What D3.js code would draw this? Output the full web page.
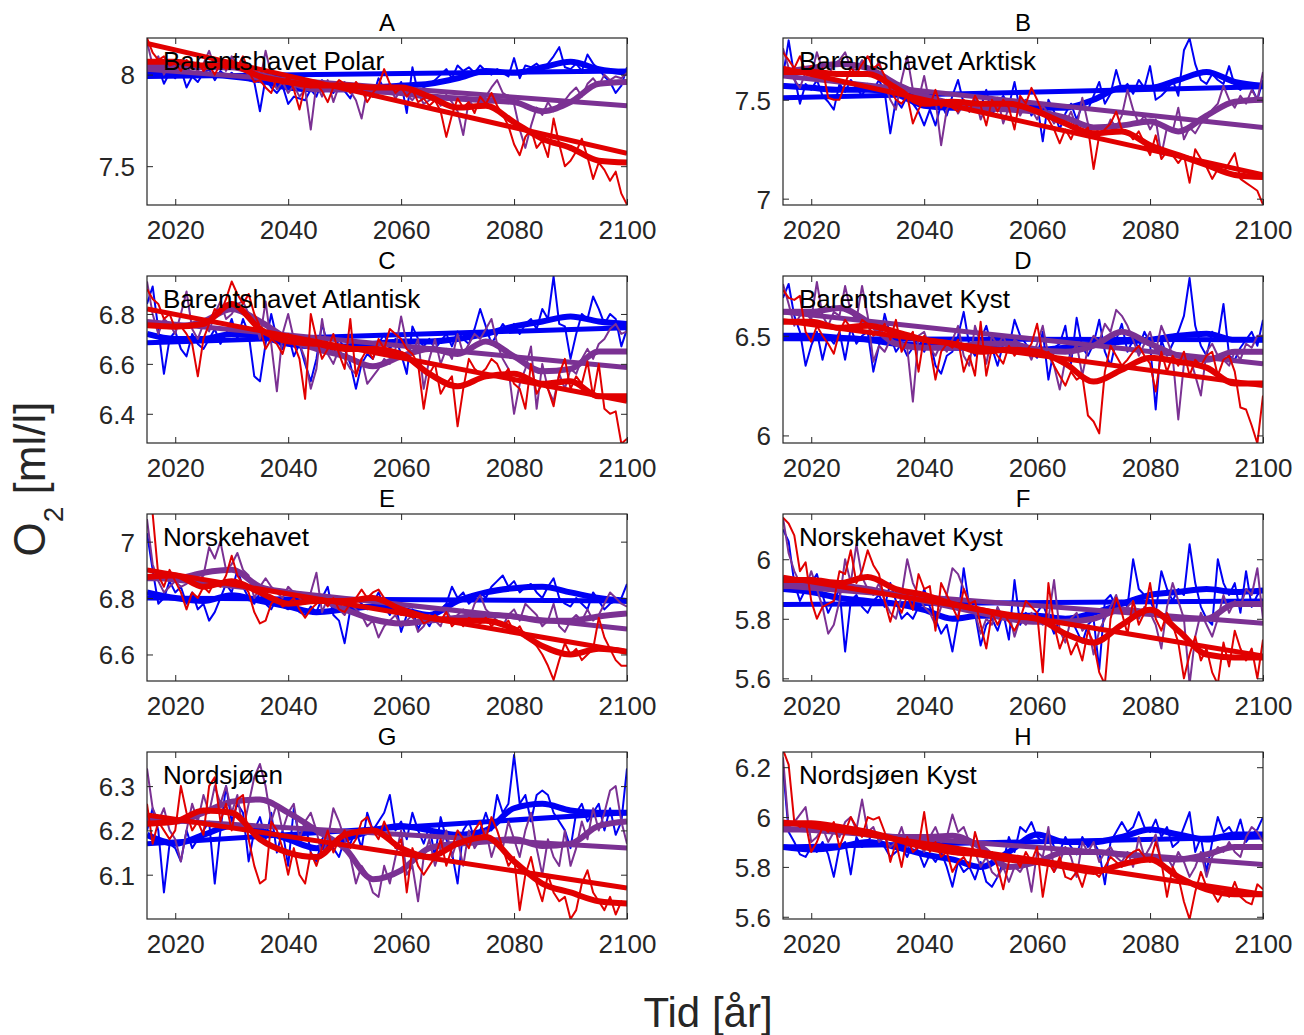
<!DOCTYPE html>
<html>
<head>
<meta charset="utf-8">
<script src="https://cdn.jsdelivr.net/npm/d3@7"></script>
<style>
  html, body { margin: 0; padding: 0; background: #fff; }
  svg { display: block; font-family: "Liberation Sans", Arial, Helvetica, sans-serif; }
</style>
</head>
<body>
<svg id="fig" width="1304" height="1035"></svg>
<script>
// ---------------------------------------------------------------------------
// Oxygen (ml/l) projections 2015-2100 for eight sea regions, three scenarios.
// Each scenario: annual values, a 5-yearly smoothed curve and a linear trend.
// ---------------------------------------------------------------------------
const firstYear = 2015;
const lastYear = 2100;
const annualYears = d3.range(firstYear, lastYear + 1);     // one value per year
const smoothYears = d3.range(firstYear, lastYear + 1, 5);  // smoothed curve knots
const xTickValues = [2020, 2040, 2060, 2080, 2100];

const panelLetters = ["A", "B", "C", "D", "E", "F", "G", "H"];
const regionNames = [
  "Barentshavet Polar", "Barentshavet Arktisk",
  "Barentshavet Atlantisk", "Barentshavet Kyst",
  "Norskehavet", "Norskehavet Kyst",
  "Nordsjøen", "Nordsjøen Kyst"
];
const yTickValues = [
  [7.5, 8], [7, 7.5],
  [6.4, 6.6, 6.8], [6, 6.5],
  [6.6, 6.8, 7], [5.6, 5.8, 6],
  [6.1, 6.2, 6.3], [5.6, 5.8, 6, 6.2]
];
const yLimits = [
  [7.288, 8.2], [6.968, 7.812],
  [6.283, 6.952], [5.962, 6.8],
  [6.506, 7.098], [5.591, 6.152],
  [6.0, 6.377], [5.591, 6.261]
];

// ---- A: Barentshavet Polar -------------------------------------------------
const polarLow = [
  8.02, 7.99, 8.04, 7.95, 8.01, 7.98, 8.03, 7.93, 7.99, 7.96,
  8.01, 8.03, 7.97, 8.02, 7.99, 8.01, 7.98, 8.00, 7.97, 7.96,
  7.80, 7.98, 7.93, 7.90, 7.94, 7.84, 7.88, 7.87, 7.86, 7.92,
  7.88, 7.97, 7.93, 7.90, 7.96, 7.91, 7.87, 7.95, 7.90, 7.94,
  7.88, 7.98, 7.92, 7.95, 7.90, 7.96, 7.79, 8.04, 7.90, 7.93,
  7.95, 7.97, 8.00, 8.03, 7.98, 8.05, 8.02, 8.04, 8.01, 8.05,
  8.02, 8.00, 8.03, 8.01, 7.99, 8.09, 7.98, 8.05, 8.04, 8.06,
  8.03, 8.06, 8.10, 8.15, 8.04, 8.03, 8.06, 8.02, 8.11, 8.06,
  8.03, 7.99, 7.96, 7.90, 7.94, 8.04
];
const polarMid = [
  8.18, 8.05, 8.10, 8.00, 8.06, 8.03, 8.08, 8.01, 8.05, 8.02,
  8.06, 8.13, 8.04, 8.08, 8.02, 8.10, 8.05, 8.07, 7.99, 8.02,
  7.96, 8.13, 8.00, 7.92, 7.96, 7.90, 7.94, 7.88, 7.92, 7.70,
  7.95, 7.88, 7.97, 7.85, 7.94, 7.96, 7.91, 7.86, 7.76, 7.92,
  7.88, 7.94, 7.90, 7.93, 7.87, 7.92, 7.89, 7.86, 7.90, 7.84,
  7.86, 7.88, 7.83, 7.89, 7.85, 7.80, 7.67, 7.86, 7.82, 7.85,
  7.88, 7.93, 7.97, 7.90, 7.88, 7.84, 7.70, 7.60, 7.72, 7.82,
  7.78, 7.85, 7.80, 7.84, 7.86, 7.90, 7.93, 7.88, 7.95, 7.98,
  7.94, 8.00, 7.97, 7.99, 7.98, 8.01
];
const polarHigh = [
  8.20, 8.12, 8.08, 8.10, 8.05, 8.06, 8.02, 8.08, 8.04, 8.07,
  8.02, 8.05, 8.00, 8.06, 8.03, 8.08, 8.04, 8.10, 8.02, 7.96,
  7.97, 7.93, 7.90, 7.98, 7.95, 7.99, 7.92, 7.81, 7.94, 7.93,
  7.95, 7.91, 7.85, 7.93, 7.97, 7.95, 7.90, 7.96, 7.92, 7.85,
  7.90, 7.94, 8.03, 7.95, 7.90, 7.93, 7.88, 7.92, 7.85, 7.87,
  7.83, 7.86, 7.80, 7.66, 7.78, 7.87, 7.82, 7.85, 7.79, 7.88,
  7.84, 7.90, 7.83, 7.78, 7.72, 7.62, 7.56, 7.66, 7.70, 7.60,
  7.64, 7.55, 7.76, 7.62, 7.50, 7.53, 7.58, 7.65, 7.55, 7.43,
  7.52, 7.48, 7.42, 7.47, 7.35, 7.29
];
const polarLowSmooth  = [8.00, 8.00, 8.00, 7.99, 7.97, 7.93, 7.92, 7.92, 7.93, 7.94, 7.95, 7.98, 8.02, 8.01, 8.04, 8.07, 8.03, 8.01];
const polarMidSmooth  = [8.05, 8.05, 8.04, 8.04, 8.00, 7.96, 7.92, 7.92, 7.91, 7.90, 7.88, 7.87, 7.86, 7.85, 7.80, 7.85, 7.95, 7.96];
const polarHighSmooth = [8.07, 8.07, 8.05, 8.05, 7.99, 7.96, 7.94, 7.94, 7.93, 7.93, 7.88, 7.82, 7.83, 7.74, 7.65, 7.60, 7.53, 7.52];
const polarTrend = [[7.99, 8.02], [8.03, 7.83], [8.17, 7.57]];

// ---- B: Barentshavet Arktisk -----------------------------------------------
const arktiskLow = [
  7.62, 7.80, 7.62, 7.48, 7.58, 7.55, 7.60, 7.52, 7.49, 7.45,
  7.58, 7.54, 7.60, 7.56, 7.52, 7.58, 7.55, 7.60, 7.54, 7.33,
  7.50, 7.46, 7.52, 7.48, 7.44, 7.37, 7.45, 7.37, 7.48, 7.42,
  7.52, 7.60, 7.48, 7.44, 7.50, 7.46, 7.55, 7.42, 7.48, 7.52,
  7.47, 7.59, 7.44, 7.50, 7.42, 7.48, 7.29, 7.50, 7.44, 7.35,
  7.43, 7.48, 7.40, 7.47, 7.45, 7.52, 7.59, 7.48, 7.53, 7.65,
  7.55, 7.58, 7.53, 7.60, 7.56, 7.67, 7.50, 7.52, 7.55, 7.60,
  7.52, 7.75, 7.81, 7.68, 7.60, 7.58, 7.63, 7.60, 7.58, 7.67,
  7.57, 7.55, 7.58, 7.56, 7.50, 7.60
];
const arktiskMid = [
  7.76, 7.66, 7.60, 7.56, 7.64, 7.62, 7.74, 7.65, 7.62, 7.68,
  7.70, 7.74, 7.66, 7.65, 7.70, 7.66, 7.62, 7.70, 7.58, 7.50,
  7.45, 7.60, 7.72, 7.55, 7.50, 7.62, 7.48, 7.50, 7.27, 7.45,
  7.50, 7.43, 7.48, 7.45, 7.52, 7.40, 7.47, 7.44, 7.51, 7.38,
  7.46, 7.50, 7.42, 7.48, 7.45, 7.40, 7.47, 7.43, 7.38, 7.42,
  7.38, 7.44, 7.36, 7.51, 7.38, 7.31, 7.36, 7.33, 7.40, 7.36,
  7.42, 7.55, 7.45, 7.38, 7.42, 7.35, 7.40, 7.22, 7.36, 7.34,
  7.46, 7.30, 7.36, 7.33, 7.38, 7.40, 7.45, 7.48, 7.57, 7.50,
  7.46, 7.52, 7.48, 7.55, 7.50, 7.64
];
const arktiskHigh = [
  7.74, 7.70, 7.66, 7.72, 7.64, 7.67, 7.62, 7.66, 7.51, 7.50,
  7.50, 7.58, 7.66, 7.63, 7.68, 7.72, 7.66, 7.68, 7.62, 7.55,
  7.50, 7.48, 7.52, 7.38, 7.45, 7.50, 7.47, 7.55, 7.46, 7.50,
  7.46, 7.44, 7.50, 7.44, 7.52, 7.47, 7.37, 7.50, 7.44, 7.50,
  7.46, 7.35, 7.52, 7.48, 7.56, 7.50, 7.43, 7.40, 7.35, 7.28,
  7.35, 7.30, 7.37, 7.33, 7.36, 7.15, 7.32, 7.35, 7.38, 7.44,
  7.35, 7.34, 7.30, 7.34, 7.28, 7.22, 7.32, 7.20, 7.24, 7.22,
  7.18, 7.22, 7.08, 7.25, 7.20, 7.16, 7.10, 7.15, 7.13, 7.18,
  7.23, 7.10, 7.08, 7.06, 7.04, 6.97
];
const arktiskLowSmooth  = [7.57, 7.56, 7.55, 7.55, 7.53, 7.47, 7.46, 7.47, 7.47, 7.46, 7.46, 7.50, 7.56, 7.56, 7.60, 7.64, 7.59, 7.57];
const arktiskMidSmooth  = [7.64, 7.66, 7.68, 7.66, 7.58, 7.52, 7.48, 7.46, 7.45, 7.44, 7.41, 7.36, 7.37, 7.39, 7.34, 7.42, 7.49, 7.50];
const arktiskHighSmooth = [7.64, 7.64, 7.63, 7.63, 7.56, 7.48, 7.49, 7.48, 7.48, 7.44, 7.38, 7.33, 7.34, 7.27, 7.22, 7.17, 7.12, 7.11];
const arktiskTrend = [[7.51, 7.565], [7.62, 7.36], [7.66, 7.12]];

// ---- C: Barentshavet Atlantisk ---------------------------------------------
const atlantiskLow = [
  6.84, 6.91, 6.74, 6.56, 6.70, 6.73, 6.66, 6.63, 6.72, 6.68,
  6.66, 6.70, 6.74, 6.68, 6.72, 6.78, 6.70, 6.78, 6.72, 6.55,
  6.53, 6.68, 6.80, 6.70, 6.66, 6.72, 6.63, 6.68, 6.60, 6.53,
  6.62, 6.76, 6.68, 6.64, 6.70, 6.66, 6.60, 6.50, 6.60, 6.64,
  6.62, 6.68, 6.72, 6.66, 6.70, 6.64, 6.56, 6.75, 6.70, 6.67,
  6.70, 6.66, 6.69, 6.72, 6.67, 6.73, 6.70, 6.68, 6.74, 6.82,
  6.75, 6.68, 6.72, 6.76, 6.73, 6.76, 6.72, 6.76, 6.78, 6.74,
  6.82, 6.78, 6.95, 6.76, 6.75, 6.62, 6.72, 6.80, 6.78, 6.87,
  6.82, 6.76, 6.80, 6.78, 6.67, 6.74
];
const atlantiskMid = [
  6.93, 6.80, 6.72, 6.78, 6.76, 6.72, 6.80, 6.89, 6.74, 6.70,
  6.76, 6.73, 6.80, 6.85, 6.78, 6.80, 6.84, 6.85, 6.80, 6.78,
  6.70, 6.85, 6.68, 6.49, 6.72, 6.80, 6.70, 6.68, 6.62, 6.50,
  6.58, 6.78, 6.64, 6.60, 6.66, 6.62, 6.58, 6.56, 6.62, 6.52,
  6.55, 6.58, 6.62, 6.60, 6.66, 6.79, 6.68, 6.64, 6.70, 6.50,
  6.62, 6.70, 6.60, 6.66, 6.62, 6.72, 6.64, 6.68, 6.72, 6.70,
  6.74, 6.78, 6.68, 6.62, 6.58, 6.40, 6.52, 6.58, 6.67, 6.42,
  6.60, 6.50, 6.45, 6.56, 6.50, 6.58, 6.56, 6.62, 6.66, 6.62,
  6.68, 6.70, 6.74, 6.76, 6.72, 6.73
];
const atlantiskHigh = [
  6.90, 6.86, 6.84, 6.78, 6.80, 6.74, 6.75, 6.72, 6.68, 6.55,
  6.70, 6.76, 6.82, 6.80, 6.86, 6.93, 6.88, 6.84, 6.88, 6.80,
  6.75, 6.66, 6.70, 6.68, 6.64, 6.72, 6.68, 6.62, 6.46, 6.80,
  6.70, 6.62, 6.66, 6.72, 6.64, 6.58, 6.78, 6.55, 6.62, 6.66,
  6.62, 6.70, 6.66, 6.74, 6.72, 6.70, 6.66, 6.64, 6.60, 6.42,
  6.56, 6.60, 6.48, 6.52, 6.55, 6.35, 6.50, 6.62, 6.58, 6.56,
  6.58, 6.62, 6.60, 6.55, 6.58, 6.52, 6.50, 6.42, 6.60, 6.48,
  6.52, 6.50, 6.43, 6.56, 6.62, 6.50, 6.55, 6.52, 6.61, 6.47,
  6.60, 6.42, 6.40, 6.41, 6.28, 6.30
];
const atlantiskLowSmooth  = [6.72, 6.70, 6.70, 6.72, 6.71, 6.68, 6.67, 6.67, 6.68, 6.69, 6.69, 6.70, 6.72, 6.75, 6.77, 6.79, 6.77, 6.76];
const atlantiskMidSmooth  = [6.76, 6.75, 6.77, 6.82, 6.77, 6.70, 6.66, 6.63, 6.59, 6.63, 6.66, 6.64, 6.69, 6.63, 6.57, 6.58, 6.65, 6.65];
const atlantiskHighSmooth = [6.755, 6.75, 6.76, 6.84, 6.74, 6.69, 6.68, 6.66, 6.66, 6.64, 6.56, 6.51, 6.55, 6.56, 6.52, 6.53, 6.47, 6.47];
const atlantiskTrend = [[6.685, 6.745], [6.77, 6.585], [6.82, 6.45]];

// ---- D: Barentshavet Kyst ---------------------------------------------------
const barentsKystLow = [
  6.69, 6.76, 6.60, 6.52, 6.35, 6.45, 6.52, 6.38, 6.50, 6.46,
  6.52, 6.38, 6.54, 6.46, 6.50, 6.52, 6.32, 6.45, 6.61, 6.50,
  6.42, 6.46, 6.40, 6.44, 6.50, 6.42, 6.48, 6.35, 6.31, 6.40,
  6.42, 6.50, 6.62, 6.45, 6.40, 6.48, 6.55, 6.44, 6.35, 6.46,
  6.44, 6.58, 6.50, 6.46, 6.42, 6.39, 6.52, 6.28, 6.44, 6.46,
  6.55, 6.36, 6.59, 6.44, 6.40, 6.46, 6.58, 6.42, 6.35, 6.48,
  6.56, 6.42, 6.48, 6.44, 6.52, 6.46, 6.13, 6.48, 6.40, 6.46,
  6.52, 6.60, 6.79, 6.55, 6.45, 6.40, 6.52, 6.48, 6.66, 6.40,
  6.38, 6.44, 6.48, 6.52, 6.45, 6.58
];
const barentsKystMid = [
  6.76, 6.66, 6.55, 6.60, 6.62, 6.58, 6.77, 6.60, 6.55, 6.62,
  6.60, 6.75, 6.62, 6.58, 6.75, 6.60, 6.37, 6.45, 6.42, 6.48,
  6.52, 6.46, 6.44, 6.17, 6.50, 6.52, 6.44, 6.40, 6.46, 6.42,
  6.48, 6.55, 6.40, 6.35, 6.55, 6.46, 6.36, 6.50, 6.45, 6.50,
  6.42, 6.48, 6.46, 6.44, 6.38, 6.46, 6.55, 6.40, 6.35, 6.23,
  6.38, 6.40, 6.46, 6.30, 6.44, 6.50, 6.47, 6.56, 6.52, 6.63,
  6.60, 6.55, 6.48, 6.40, 6.46, 6.52, 6.42, 6.55, 6.48, 6.40,
  6.08, 6.36, 6.40, 6.30, 6.20, 6.42, 6.46, 6.40, 6.38, 6.35,
  6.42, 6.38, 6.46, 6.44, 6.50, 6.50
];
const barentsKystHigh = [
  6.73, 6.69, 6.68, 6.70, 6.52, 6.47, 6.55, 6.50, 6.46, 6.41,
  6.52, 6.58, 6.54, 6.52, 6.58, 6.56, 6.50, 6.52, 6.56, 6.48,
  6.58, 6.42, 6.48, 6.52, 6.32, 6.50, 6.45, 6.28, 6.42, 6.46,
  6.44, 6.48, 6.32, 6.40, 6.30, 6.57, 6.30, 6.44, 6.40, 6.36,
  6.45, 6.40, 6.44, 6.42, 6.46, 6.56, 6.40, 6.42, 6.35, 6.30,
  6.25, 6.32, 6.28, 6.30, 6.10, 6.07, 6.01, 6.32, 6.45, 6.40,
  6.35, 6.38, 6.42, 6.45, 6.40, 6.36, 6.22, 6.42, 6.32, 6.40,
  6.35, 6.42, 6.30, 6.38, 6.35, 6.40, 6.42, 6.30, 6.38, 6.40,
  6.32, 6.14, 6.13, 6.05, 5.96, 6.20
];
const barentsKystLowSmooth  = [6.50, 6.50, 6.49, 6.48, 6.46, 6.45, 6.44, 6.44, 6.43, 6.43, 6.44, 6.46, 6.47, 6.48, 6.50, 6.51, 6.48, 6.48];
const barentsKystMidSmooth  = [6.62, 6.62, 6.64, 6.57, 6.46, 6.44, 6.44, 6.46, 6.46, 6.43, 6.42, 6.45, 6.52, 6.46, 6.40, 6.38, 6.42, 6.42];
const barentsKystHighSmooth = [6.57, 6.57, 6.54, 6.55, 6.52, 6.48, 6.46, 6.42, 6.43, 6.42, 6.36, 6.27, 6.33, 6.39, 6.37, 6.34, 6.26, 6.26];
const barentsKystTrend = [[6.485, 6.48], [6.62, 6.36], [6.575, 6.25]];

// ---- E: Norskehavet ---------------------------------------------------------
const norskeLow = [
  7.03, 6.90, 6.78, 6.80, 6.86, 6.82, 6.84, 6.78, 6.82, 6.76,
  6.78, 6.72, 6.75, 6.80, 6.85, 6.82, 6.90, 6.84, 6.80, 6.78,
  6.82, 6.78, 6.76, 6.80, 6.77, 6.76, 6.78, 6.75, 6.74, 6.77,
  6.75, 6.80, 6.84, 6.74, 6.72, 6.64, 6.76, 6.80, 6.78, 6.76,
  6.78, 6.82, 6.77, 6.74, 6.78, 6.68, 6.74, 6.76, 6.69, 6.73,
  6.70, 6.74, 6.76, 6.78, 6.84, 6.80, 6.82, 6.78, 6.80, 6.82,
  6.80, 6.84, 6.86, 6.88, 6.84, 6.86, 6.82, 6.84, 6.85, 6.82,
  6.80, 6.84, 6.87, 6.80, 6.78, 6.77, 6.80, 6.78, 6.76, 6.82,
  6.79, 6.76, 6.78, 6.79, 6.80, 6.85
];
const norskeMid = [
  7.08, 6.92, 6.86, 6.82, 6.84, 6.86, 6.84, 6.85, 6.88, 6.86,
  6.88, 6.98, 6.94, 7.00, 6.90, 6.92, 6.96, 6.90, 6.88, 6.80,
  6.84, 6.87, 6.84, 6.82, 6.80, 6.84, 6.82, 6.80, 6.78, 6.82,
  6.89, 6.75, 6.80, 6.78, 6.76, 6.74, 6.78, 6.76, 6.74, 6.70,
  6.72, 6.66, 6.70, 6.72, 6.74, 6.70, 6.72, 6.74, 6.68, 6.70,
  6.74, 6.72, 6.70, 6.76, 6.72, 6.74, 6.76, 6.72, 6.78, 6.81,
  6.76, 6.74, 6.72, 6.70, 6.74, 6.76, 6.72, 6.78, 6.76, 6.74,
  6.70, 6.72, 6.78, 6.70, 6.68, 6.72, 6.74, 6.72, 6.76, 6.72,
  6.74, 6.78, 6.82, 6.80, 6.78, 6.77
];
const norskeHigh = [
  7.12, 7.10, 6.88, 6.84, 6.90, 6.86, 6.82, 6.76, 6.82, 6.80,
  6.84, 6.82, 6.86, 6.84, 6.88, 6.95, 6.88, 6.85, 6.82, 6.75,
  6.71, 6.72, 6.78, 6.80, 6.77, 6.78, 6.80, 6.76, 6.73, 6.76,
  6.78, 6.80, 6.77, 6.80, 6.76, 6.75, 6.78, 6.80, 6.83, 6.80,
  6.82, 6.83, 6.80, 6.78, 6.76, 6.74, 6.76, 6.73, 6.74, 6.71,
  6.72, 6.74, 6.72, 6.75, 6.70, 6.72, 6.70, 6.73, 6.72, 6.71,
  6.73, 6.70, 6.72, 6.70, 6.72, 6.68, 6.70, 6.66, 6.65, 6.63,
  6.60, 6.56, 6.51, 6.58, 6.64, 6.60, 6.62, 6.58, 6.60, 6.62,
  6.73, 6.66, 6.62, 6.58, 6.56, 6.56
];
const norskeLowSmooth  = [6.82, 6.80, 6.79, 6.81, 6.79, 6.77, 6.75, 6.76, 6.77, 6.76, 6.74, 6.79, 6.82, 6.835, 6.84, 6.82, 6.80, 6.79];
const norskeMidSmooth  = [6.87, 6.87, 6.89, 6.90, 6.84, 6.82, 6.80, 6.76, 6.725, 6.71, 6.72, 6.73, 6.74, 6.735, 6.72, 6.72, 6.735, 6.745];
const norskeHighSmooth = [6.875, 6.88, 6.84, 6.86, 6.82, 6.78, 6.79, 6.79, 6.80, 6.76, 6.73, 6.72, 6.72, 6.69, 6.63, 6.60, 6.62, 6.61];
const norskeTrend = [[6.80, 6.79], [6.875, 6.69], [6.90, 6.61]];

// ---- F: Norskehavet Kyst ----------------------------------------------------
const norskeKystLow = [
  6.10, 6.06, 5.92, 5.86, 5.90, 5.92, 5.95, 5.88, 5.82, 5.86,
  5.90, 5.69, 5.86, 5.88, 5.84, 5.82, 5.86, 5.88, 5.84, 5.92,
  5.86, 5.80, 5.82, 5.80, 5.84, 5.90, 5.84, 5.80, 5.75, 5.78,
  5.69, 5.80, 5.97, 5.84, 5.82, 5.71, 5.78, 5.80, 5.76, 5.82,
  5.73, 5.93, 5.78, 5.82, 5.80, 5.82, 5.85, 5.80, 5.75, 5.80,
  5.78, 5.80, 5.76, 5.72, 5.78, 5.80, 5.63, 5.86, 5.88, 5.84,
  5.86, 5.84, 6.00, 5.90, 5.88, 5.86, 5.82, 5.96, 5.90, 5.86,
  5.90, 5.88, 6.05, 5.92, 5.84, 5.80, 5.78, 6.00, 5.92, 5.88,
  5.92, 5.82, 5.96, 5.84, 5.88, 5.90
];
const norskeKystMid = [
  6.14, 6.02, 5.96, 5.92, 5.90, 5.96, 5.90, 5.84, 5.75, 5.78,
  5.86, 6.00, 5.92, 6.05, 5.94, 5.90, 5.88, 5.92, 5.86, 5.82,
  5.80, 5.88, 6.00, 5.92, 5.88, 5.84, 5.82, 5.78, 5.84, 5.88,
  5.97, 5.95, 5.90, 5.86, 5.82, 5.75, 5.80, 5.78, 5.84, 5.80,
  5.82, 5.74, 5.80, 5.78, 5.82, 5.80, 5.78, 5.80, 5.93, 5.76,
  5.72, 5.80, 5.82, 5.76, 5.78, 5.68, 5.76, 5.80, 5.84, 5.88,
  5.82, 5.84, 5.86, 5.80, 5.84, 5.82, 5.78, 5.70, 5.84, 5.92,
  5.86, 5.80, 5.58, 5.74, 5.82, 5.78, 5.74, 5.80, 5.88, 5.82,
  5.86, 5.84, 5.90, 5.88, 5.97, 5.80
];
const norskeKystHigh = [
  6.14, 6.12, 6.08, 5.96, 5.99, 5.86, 5.80, 5.84, 5.85, 5.86,
  5.96, 5.95, 6.03, 5.92, 5.96, 6.03, 5.98, 5.95, 5.86, 5.79,
  5.86, 5.82, 5.88, 5.83, 5.95, 5.90, 5.91, 5.76, 5.92, 5.88,
  5.84, 5.80, 5.90, 5.85, 5.86, 5.78, 5.70, 5.82, 5.78, 5.82,
  5.79, 5.76, 5.80, 5.86, 5.84, 5.82, 5.62, 5.92, 5.78, 5.70,
  5.75, 5.68, 5.72, 5.66, 5.76, 5.72, 5.62, 5.58, 5.80, 5.87,
  5.82, 5.75, 5.86, 5.78, 5.82, 5.92, 5.80, 5.76, 5.82, 5.78,
  5.72, 5.60, 5.68, 5.74, 5.66, 5.70, 5.62, 5.58, 5.72, 5.64,
  5.76, 5.70, 5.66, 5.70, 5.60, 5.73
];
const norskeKystLowSmooth  = [5.90, 5.89, 5.87, 5.86, 5.85, 5.83, 5.80, 5.81, 5.81, 5.81, 5.80, 5.82, 5.85, 5.88, 5.89, 5.90, 5.89, 5.895];
const norskeKystMidSmooth  = [5.91, 5.91, 5.91, 5.90, 5.88, 5.86, 5.84, 5.82, 5.80, 5.79, 5.79, 5.80, 5.83, 5.82, 5.80, 5.80, 5.85, 5.85];
const norskeKystHighSmooth = [5.93, 5.93, 5.92, 5.94, 5.90, 5.88, 5.85, 5.83, 5.81, 5.80, 5.75, 5.72, 5.78, 5.83, 5.76, 5.68, 5.67, 5.67];
const norskeKystTrend = [[5.848, 5.86], [5.91, 5.785], [5.94, 5.675]];

// ---- G: Nordsjøen -----------------------------------------------------------
const nordsjoLow = [
  6.20, 6.25, 6.20, 6.06, 6.17, 6.16, 6.13, 6.20, 6.16, 6.18,
  6.20, 6.22, 6.08, 6.20, 6.30, 6.22, 6.26, 6.24, 6.13, 6.20,
  6.23, 6.18, 6.24, 6.15, 6.20, 6.12, 6.25, 6.18, 6.22, 6.15,
  6.13, 6.18, 6.20, 6.16, 6.14, 6.18, 6.17, 6.20, 6.16, 6.24,
  6.20, 6.22, 6.24, 6.28, 6.20, 6.22, 6.18, 6.24, 6.20, 6.17,
  6.21, 6.14, 6.23, 6.18, 6.15, 6.08, 6.20, 6.22, 6.18, 6.20,
  6.24, 6.20, 6.28, 6.24, 6.26, 6.37, 6.26, 6.28, 6.22, 6.28,
  6.29, 6.28, 6.24, 6.22, 6.20, 6.16, 6.24, 6.26, 6.22, 6.24,
  6.26, 6.20, 6.25, 6.19, 6.22, 6.34
];
const nordsjoMid = [
  6.34, 6.25, 6.22, 6.25, 6.20, 6.18, 6.13, 6.20, 6.26, 6.22,
  6.28, 6.24, 6.30, 6.26, 6.30, 6.24, 6.28, 6.20, 6.26, 6.32,
  6.35, 6.30, 6.22, 6.26, 6.20, 6.24, 6.26, 6.18, 6.22, 6.24,
  6.20, 6.14, 6.18, 6.25, 6.22, 6.18, 6.14, 6.08, 6.12, 6.10,
  6.06, 6.05, 6.12, 6.08, 6.14, 6.20, 6.10, 6.12, 6.04, 6.14,
  6.18, 6.12, 6.16, 6.20, 6.14, 6.18, 6.12, 6.20, 6.16, 6.18,
  6.20, 6.14, 6.18, 6.16, 6.22, 6.18, 6.14, 6.20, 6.24, 6.16,
  6.10, 6.18, 6.14, 6.12, 6.20, 6.12, 6.16, 6.22, 6.18, 6.25,
  6.20, 6.24, 6.29, 6.30, 6.22, 6.17
];
const nordsjoHigh = [
  6.26, 6.17, 6.22, 6.20, 6.18, 6.20, 6.30, 6.24, 6.20, 6.22,
  6.19, 6.30, 6.32, 6.22, 6.26, 6.20, 6.27, 6.28, 6.18, 6.12,
  6.08, 6.09, 6.22, 6.20, 6.16, 6.10, 6.16, 6.10, 6.08, 6.15,
  6.12, 6.16, 6.20, 6.15, 6.18, 6.20, 6.16, 6.18, 6.22, 6.23,
  6.20, 6.18, 6.22, 6.19, 6.16, 6.18, 6.06, 6.16, 6.12, 6.10,
  6.12, 6.14, 6.18, 6.12, 6.16, 6.20, 6.18, 6.16, 6.20, 6.22,
  6.18, 6.23, 6.20, 6.16, 6.12, 6.14, 6.02, 6.10, 6.14, 6.08,
  6.04, 6.10, 6.06, 6.04, 6.05, 6.00, 6.02, 6.08, 6.11, 6.06,
  6.04, 6.02, 6.05, 6.01, 6.04, 6.03
];
const nordsjoLowSmooth  = [6.19, 6.17, 6.19, 6.21, 6.20, 6.18, 6.16, 6.18, 6.20, 6.21, 6.20, 6.19, 6.20, 6.25, 6.26, 6.245, 6.24, 6.24];
const nordsjoMidSmooth  = [6.22, 6.22, 6.24, 6.265, 6.27, 6.24, 6.20, 6.16, 6.09, 6.11, 6.16, 6.17, 6.175, 6.18, 6.165, 6.17, 6.21, 6.22];
const nordsjoHighSmooth = [6.215, 6.22, 6.245, 6.24, 6.18, 6.15, 6.14, 6.19, 6.20, 6.16, 6.14, 6.17, 6.185, 6.13, 6.08, 6.06, 6.04, 6.035];
const nordsjoTrend = [[6.17, 6.24], [6.225, 6.16], [6.235, 6.07]];

// ---- H: Nordsjøen Kyst ------------------------------------------------------
const nordsjoKystLow = [
  6.20, 5.94, 5.90, 5.85, 5.84, 5.88, 5.86, 5.90, 5.85, 5.76,
  5.88, 5.90, 5.77, 5.92, 5.88, 5.90, 5.94, 5.92, 5.88, 5.84,
  5.86, 5.88, 5.84, 5.90, 5.86, 5.80, 5.85, 5.82, 5.86, 5.80,
  5.72, 5.82, 5.78, 5.80, 5.75, 5.82, 5.74, 5.72, 5.76, 5.82,
  5.92, 5.86, 5.96, 5.94, 5.98, 5.92, 5.90, 5.94, 5.88, 5.86,
  5.92, 5.88, 5.85, 5.92, 5.88, 5.90, 5.86, 5.73, 5.90, 5.94,
  5.98, 5.94, 5.96, 6.02, 5.96, 5.94, 5.99, 5.92, 5.96, 5.88,
  5.90, 5.96, 6.02, 5.86, 5.92, 5.78, 5.90, 6.00, 5.94, 5.96,
  5.92, 5.99, 5.90, 5.93, 5.95, 6.00
];
const nordsjoKystMid = [
  6.24, 5.96, 5.98, 6.01, 6.04, 5.90, 5.92, 5.96, 5.90, 5.94,
  5.92, 5.98, 6.00, 5.95, 6.07, 5.94, 5.96, 5.90, 5.92, 5.88,
  5.90, 5.96, 5.88, 5.92, 5.90, 5.86, 5.92, 5.96, 5.90, 5.92,
  6.01, 5.94, 5.96, 5.90, 5.86, 5.80, 5.84, 5.78, 5.76, 5.80,
  5.74, 5.80, 5.78, 5.82, 5.70, 5.86, 5.84, 5.96, 5.78, 5.82,
  5.88, 5.84, 5.76, 5.90, 5.86, 5.90, 5.82, 5.86, 5.88, 5.84,
  5.82, 5.86, 5.80, 5.92, 5.84, 5.88, 5.93, 5.82, 5.84, 5.80,
  5.86, 5.82, 5.76, 5.80, 5.86, 5.76, 5.84, 5.88, 5.86, 5.90,
  5.86, 5.84, 5.92, 5.96, 5.94, 5.90
];
const nordsjoKystHigh = [
  6.27, 6.21, 5.98, 5.96, 5.98, 5.86, 5.90, 5.96, 5.94, 5.98,
  5.88, 5.94, 6.00, 5.96, 5.92, 6.00, 5.99, 6.00, 5.94, 5.82,
  5.90, 5.80, 5.92, 5.86, 5.88, 6.02, 5.86, 5.90, 5.84, 5.86,
  5.78, 5.82, 5.84, 5.80, 5.94, 5.86, 5.84, 5.86, 5.80, 5.71,
  5.82, 5.84, 5.80, 5.86, 5.82, 5.88, 5.68, 5.82, 5.78, 5.84,
  5.76, 5.75, 5.78, 5.72, 5.80, 5.78, 5.76, 5.80, 5.84, 5.82,
  5.80, 5.84, 5.86, 5.87, 5.84, 5.82, 5.90, 5.82, 5.68, 5.80,
  5.76, 5.66, 5.59, 5.70, 5.78, 5.72, 5.70, 5.66, 5.70, 5.68,
  5.74, 5.68, 5.66, 5.65, 5.73, 5.71
];
const nordsjoKystLowSmooth  = [5.88, 5.87, 5.88, 5.90, 5.88, 5.85, 5.83, 5.80, 5.86, 5.93, 5.90, 5.90, 5.92, 5.95, 5.93, 5.91, 5.93, 5.93];
const nordsjoKystMidSmooth  = [5.95, 5.95, 5.95, 5.93, 5.92, 5.92, 5.925, 5.88, 5.80, 5.82, 5.86, 5.86, 5.85, 5.84, 5.83, 5.85, 5.88, 5.88];
const nordsjoKystHighSmooth = [5.975, 5.975, 5.96, 5.94, 5.91, 5.88, 5.86, 5.85, 5.83, 5.82, 5.80, 5.78, 5.81, 5.83, 5.76, 5.71, 5.69, 5.69];
const nordsjoKystTrend = [[5.88, 5.92], [5.955, 5.81], [5.98, 5.69]];

// Scenario colours: low (blue), middle (purple), high (red)
const scenarioColors = ["#0000f5", "#7b3193", "#e10000"];

// Per-panel lookup tables built from the arrays above
const annualByPanel = [
  [polarLow, polarMid, polarHigh],
  [arktiskLow, arktiskMid, arktiskHigh],
  [atlantiskLow, atlantiskMid, atlantiskHigh],
  [barentsKystLow, barentsKystMid, barentsKystHigh],
  [norskeLow, norskeMid, norskeHigh],
  [norskeKystLow, norskeKystMid, norskeKystHigh],
  [nordsjoLow, nordsjoMid, nordsjoHigh],
  [nordsjoKystLow, nordsjoKystMid, nordsjoKystHigh]
];
const smoothByPanel = [
  [polarLowSmooth, polarMidSmooth, polarHighSmooth],
  [arktiskLowSmooth, arktiskMidSmooth, arktiskHighSmooth],
  [atlantiskLowSmooth, atlantiskMidSmooth, atlantiskHighSmooth],
  [barentsKystLowSmooth, barentsKystMidSmooth, barentsKystHighSmooth],
  [norskeLowSmooth, norskeMidSmooth, norskeHighSmooth],
  [norskeKystLowSmooth, norskeKystMidSmooth, norskeKystHighSmooth],
  [nordsjoLowSmooth, nordsjoMidSmooth, nordsjoHighSmooth],
  [nordsjoKystLowSmooth, nordsjoKystMidSmooth, nordsjoKystHighSmooth]
];
const trendByPanel = [
  polarTrend, arktiskTrend, atlantiskTrend, barentsKystTrend,
  norskeTrend, norskeKystTrend, nordsjoTrend, nordsjoKystTrend
];

// ---- Layout ------------------------------------------------------------------
const colLeft = [147, 783];
const rowTop = [38, 276, 514, 752];
const panelW = 480;
const panelH = 167;
const axisColor = "#262626";
const fontFamily = '"Liberation Sans", Arial, Helvetica, sans-serif';
const labelSize = 26;
const letterSize = 24;

const svg = d3.select("#fig");
svg.append("rect").attr("width", 1304).attr("height", 1035).attr("fill", "#fff");

panelLetters.forEach((letter, i) => {
  const col = i % 2;
  const row = Math.floor(i / 2);
  const g = svg.append("g").attr("transform", `translate(${colLeft[col]},${rowTop[row]})`);

  const x = d3.scaleLinear().domain([firstYear, lastYear]).range([0, panelW]);
  const y = d3.scaleLinear().domain(yLimits[i]).range([panelH, 0]);

  const clipId = "clip-" + letter;
  g.append("clipPath").attr("id", clipId)
    .append("rect").attr("width", panelW).attr("height", panelH);
  const plot = g.append("g").attr("clip-path", `url(#${clipId})`);

  const annualLine = d3.line()
    .x((d, k) => x(annualYears[k]))
    .y(d => y(d));
  const smoothLine = d3.line()
    .x((d, k) => x(smoothYears[k]))
    .y(d => y(d))
    .curve(d3.curveMonotoneX);

  scenarioColors.forEach((color, s) => {
    plot.append("path")
      .attr("d", annualLine(annualByPanel[i][s]))
      .attr("fill", "none").attr("stroke", color)
      .attr("stroke-width", 2).attr("stroke-linejoin", "round");
    plot.append("path")
      .attr("d", smoothLine(smoothByPanel[i][s]))
      .attr("fill", "none").attr("stroke", color)
      .attr("stroke-width", 6).attr("stroke-linejoin", "round").attr("stroke-linecap", "butt");
    const t = trendByPanel[i][s];
    plot.append("line")
      .attr("x1", x(firstYear)).attr("y1", y(t[0]))
      .attr("x2", x(lastYear)).attr("y2", y(t[1]))
      .attr("stroke", color).attr("stroke-width", 5);
  });

  // Axes: inward ticks on all four sides, labels only bottom and left
  const styleAxis = sel => {
    sel.select(".domain").remove();
    sel.selectAll(".tick line").attr("stroke", axisColor).attr("stroke-width", 1);
    sel.selectAll(".tick text").attr("fill", axisColor)
      .attr("font-size", labelSize).attr("font-family", fontFamily);
  };
  g.append("g").attr("transform", `translate(0,${panelH})`)
    .call(d3.axisBottom(x).tickValues(xTickValues).tickFormat(d3.format("d"))
      .tickSize(-6).tickPadding(16))
    .call(styleAxis);
  g.append("g")
    .call(d3.axisTop(x).tickValues(xTickValues).tickFormat("").tickSize(-6))
    .call(styleAxis);
  g.append("g")
    .call(d3.axisLeft(y).tickValues(yTickValues[i]).tickFormat(v => String(v))
      .tickSize(-6).tickPadding(12))
    .call(styleAxis)
    .selectAll(".tick text").attr("dy", "0.36em");
  g.append("g").attr("transform", `translate(${panelW},0)`)
    .call(d3.axisRight(y).tickValues(yTickValues[i]).tickFormat("").tickSize(-6))
    .call(styleAxis);

  g.append("rect")
    .attr("width", panelW).attr("height", panelH)
    .attr("fill", "none").attr("stroke", axisColor).attr("stroke-width", 1.2);

  // Panel letter and region name
  g.append("text")
    .attr("x", panelW / 2).attr("y", -7)
    .attr("text-anchor", "middle")
    .attr("font-size", letterSize).attr("font-family", fontFamily).attr("fill", "#000")
    .text(letter);
  g.append("text")
    .attr("x", 16).attr("y", 32)
    .attr("font-size", labelSize).attr("font-family", fontFamily).attr("fill", "#000")
    .text(regionNames[i]);
});

// Shared axis titles
const yTitle = svg.append("text")
  .attr("transform", "translate(45,479) rotate(-90)")
  .attr("text-anchor", "middle")
  .attr("font-size", 44).attr("font-family", fontFamily).attr("fill", axisColor);
yTitle.append("tspan").text("O");
yTitle.append("tspan").attr("font-size", 28).attr("dy", 18).text("2");
yTitle.append("tspan").attr("dy", -18).text(" [ml/l]");

svg.append("text")
  .attr("x", 708).attr("y", 1027)
  .attr("text-anchor", "middle")
  .attr("font-size", 42).attr("font-family", fontFamily).attr("fill", axisColor)
  .text("Tid [år]");
</script>
</body>
</html>
